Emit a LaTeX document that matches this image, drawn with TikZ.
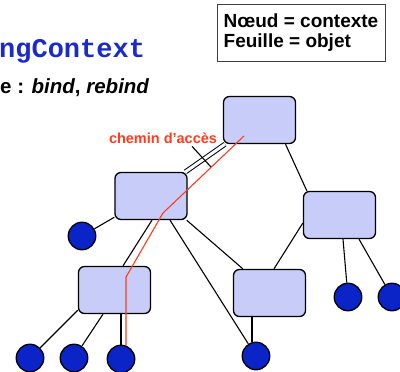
\documentclass[tikz,border=0pt]{standalone}
\usepackage{fontspec}
\setmainfont{Liberation Sans}
\setmonofont{Liberation Mono}
\definecolor{ctxfill}{HTML}{C8CCF8}
\definecolor{leafblue}{HTML}{0A24C8}
\definecolor{pathred}{HTML}{FF3C1E}
\definecolor{titleblue}{HTML}{1A2ACC}
\begin{document}
\begin{tikzpicture}[x=1pt, y=-1pt,
    ctx/.style={rectangle, rounded corners=6pt, draw, line width=1.3pt, fill=ctxfill,
      minimum width=72pt, minimum height=47pt, inner sep=0pt},
    leaf/.style={circle, draw, line width=1.3pt, fill=leafblue, minimum size=27.5pt, inner sep=0pt},
    link/.style={line width=1.1pt},
    strong/.style={line width=1.9pt},
    twin/.style={double, double distance=3pt, line width=1pt},
    redpath/.style={draw=pathred, line width=1.1pt}]
      \clip (0,0) rectangle (400,372);

      % title and legend
      \node[anchor=base west, inner sep=0pt, text=titleblue, font=\ttfamily\bfseries\fontsize{27}{30}\selectfont] at (-1,57) (title) {ngContext};
      \node[anchor=base west, inner sep=0pt, font=\bfseries\fontsize{20.5}{24}\selectfont] at (0,93) (ops) {e : \textit{bind}, \textit{rebind}};
      \node[draw=black!75, line width=0.8pt, align=left, minimum width=168pt, minimum height=57pt, inner sep=0pt,
        font=\bfseries\fontsize{19}{20}\selectfont] at (301,32.5) (legend) {Nœud = contexte\\Feuille = objet};

      % contexts
      \node[ctx] at (259.5,120) (root) {};
      \node[ctx] at (151,196)   (ctxa) {};
      \node[ctx] at (339.5,215) (ctxb) {};
      \node[ctx] at (114.5,290) (ctxc) {};
      \node[ctx] at (269.5,293) (ctxd) {};

      % objects
      \node[leaf] at (82,236)  (l1) {};
      \node[leaf] at (30,358)  (l2) {};
      \node[leaf] at (74,358)  (l3) {};
      \node[leaf] at (121,359) (l4) {};
      \node[leaf] at (256,356) (l5) {};
      \node[leaf] at (348,297) (l6) {};
      \node[leaf] at (392,297) (l7) {};

      \draw[twin] (root) -- (ctxa);
      \draw[link] ([xshift=26pt]root.south) -- ([xshift=4pt]ctxb.north west);
      \draw[link] (ctxa) -- (l1);
      \draw[link] ([xshift=1pt]ctxa.south) -- ([xshift=8.5pt]ctxc.north);
      \draw[link] ([xshift=19pt]ctxa.south) -- (l5);
      \draw[link] ([xshift=-1pt]ctxa.south east) -- ([xshift=10pt]ctxd.north west);
      \draw[link] ([yshift=-8pt]ctxb.west) -- ([xshift=4.5pt]ctxd.north);
      \draw[link] ([xshift=3.5pt]ctxb.south) -- (l6);
      \draw[link] ([xshift=19.5pt]ctxb.south) -- (l7);
      \draw[link] ([yshift=4pt]ctxc.south west) -- (l2);
      \draw[link] ([xshift=-11.5pt]ctxc.south) -- (l3);
      \draw[strong] (l4 |- ctxc.south) -- (l4);
      \coordinate (l5top) at ([xshift=-4pt]l5.north);
      \draw[strong] (l5top |- ctxd.south) -- (l5top);

      % access path
      \coordinate (r0) at (244,136);
      \coordinate (r1) at (163,213);
      \coordinate (r2) at (126,277);
      \coordinate (r3) at (126,345);
      \draw[redpath] (r0) -- (r1) -- (r2) -- (r3);
      \node[anchor=base, inner sep=0pt, text=pathred, font=\bfseries\fontsize{14.5}{16}\selectfont] at (163,143) (lbl) {chemin d’accès};
      \coordinate (ptr) at (211,167);
      \draw[link] ([shift={(29pt,-3pt)}]lbl.south) -- (ptr);
    \end{tikzpicture}
\end{document}
